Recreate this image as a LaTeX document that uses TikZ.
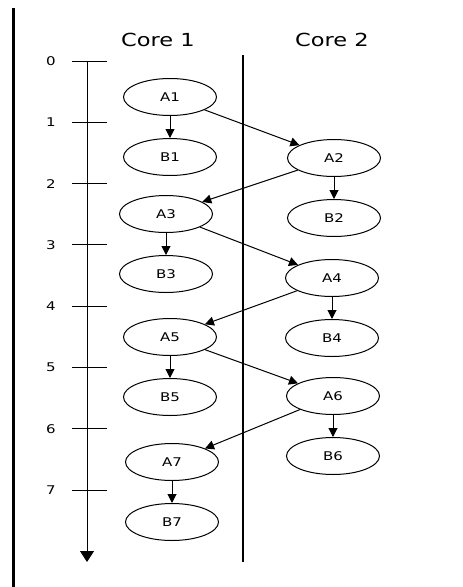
\documentclass[tikz,border=0pt]{standalone}
\usepackage{fontspec}
\setmainfont{DejaVu Sans}[FakeStretch=1.25]
\usepackage{tikz}
\usetikzlibrary{arrows.meta, positioning, shapes}

\begin{document}
\begin{tikzpicture}[x=1pt, y=1pt, node distance=60pt]
% styles
\tikzstyle{task} = [ellipse, draw, line width=1pt, minimum width=93pt, minimum height=37pt, inner sep=0pt, font=\fontsize{12}{14}\selectfont]
\tikzstyle{line} = [draw, line width=1pt, -{Triangle[length=9pt, width=9pt]}]
\tikzstyle{title} = [font=\fontsize{18}{21}\selectfont]

\useasboundingbox (0,0) rectangle (463,-587);

% frame and core divider
\draw[line width=3pt] (13,-8) -- (13,-587);
\draw[line width=2.5pt] (243,-55) -- (243,-562);

% core titles
\node [title] (core1) at (158,-40) {Core 1};
\node [title] (core2) at (332,-40) {Core 2};

% time axis
\coordinate (ttop) at (87,-61);
\coordinate (tend) at (87,-562);
\draw[line width=1pt, -{Triangle[length=11pt, width=14pt]}] (ttop) -- (tend);
\foreach \t in {0,...,7} {
  \draw[line width=1pt] (72,-61-61.3*\t) -- (107,-61-61.3*\t);
  \node [font=\fontsize{12}{14}\selectfont] (t\t) at (51,-61-61.3*\t) {\t};
}

% tasks of core 1 and core 2
\node [task] (A1) at (170,-97) {A1};
\node [task] (A2) at (334,-158) {A2};
\node [task] (A3) at (166,-214) {A3};
\node [task] (A4) at (332,-278) {A4};
\node [task] (A5) at (170,-337) {A5};
\node [task] (A6) at (333,-396) {A6};
\node [task] (A7) at (172,-462) {A7};
\node [task, below of=A1] (B1) {B1};
\node [task, below of=A2] (B2) {B2};
\node [task, below of=A3] (B3) {B3};
\node [task, below of=A4] (B4) {B4};
\node [task, below of=A5] (B5) {B5};
\node [task, below of=A6] (B6) {B6};
\node [task, below of=A7] (B7) {B7};

% connections
\path [line] (A1) -- (B1);
\path [line] (A2) -- (B2);
\path [line] (A3) -- (B3);
\path [line] (A4) -- (B4);
\path [line] (A5) -- (B5);
\path [line] (A6) -- (B6);
\path [line] (A7) -- (B7);
\path [line] (A1) -- (A2);
\path [line] (A2) -- (A3);
\path [line] (A3) -- (A4);
\path [line] (A4) -- (A5);
\path [line] (A5) -- (A6);
\path [line] (A6) -- (A7);
\end{tikzpicture}
\end{document}
